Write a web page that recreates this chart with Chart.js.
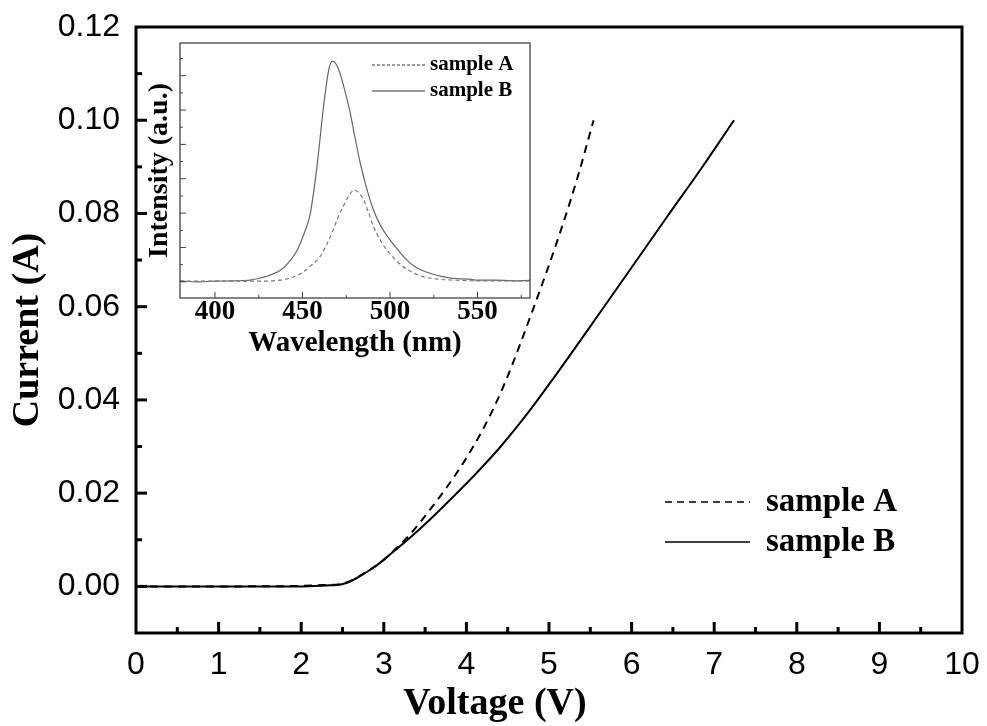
<!DOCTYPE html>
<html>
<head>
<meta charset="utf-8">
<script src="https://cdn.jsdelivr.net/npm/chart.js@4.4.1/dist/chart.umd.min.js"></script>
<style>
  html, body { margin: 0; padding: 0; background: #fff; }
  #wrap { position: relative; width: 987px; height: 726px; }
  #main { position: absolute; left: 0; top: 0; }
  #inset { position: absolute; left: 140px; top: 30px; }
</style>
</head>
<body>
<div id="wrap">
  <canvas id="main" width="987" height="726"></canvas>
  <canvas id="inset" width="420" height="340"></canvas>
</div>
<script>
// I-V curves: voltage (V) and current (A)
const voltageA = [0, 1, 2, 2.3, 2.48, 2.6, 2.75, 2.98, 3.15, 3.32, 3.6, 3.87, 4.09, 4.29, 4.47, 4.81, 5.14, 5.35, 5.54];
const currentA = [0, 0, 0.0001, 0.0003, 0.0005, 0.0012, 0.0027, 0.0054, 0.0082, 0.0112, 0.0174, 0.0240, 0.0302, 0.0368, 0.0438, 0.0596, 0.0762, 0.0880, 0.100];
const voltageB = [0, 1, 2, 2.3, 2.48, 2.6, 2.75, 2.92, 3.1, 3.32, 3.55, 3.81, 4.1, 4.41, 4.77, 5.06, 5.62, 6.0, 6.43, 6.85, 7.24];
const currentB = [0, 0, 0, 0.0002, 0.0004, 0.0011, 0.0026, 0.0046, 0.0072, 0.0105, 0.0142, 0.0187, 0.0239, 0.0299, 0.0378, 0.0448, 0.0588, 0.0684, 0.0793, 0.0898, 0.100];
const voltageTicks = [0, 1, 2, 3, 4, 5, 6, 7, 8, 9, 10];
const currentTicks = [0, 0.02, 0.04, 0.06, 0.08, 0.10, 0.12];
const seriesLabels = ["sample A", "sample B"];

// inset: EL spectra, wavelength (nm) and intensity (a.u.)
const wavelengthA = [380, 400, 425, 437, 445, 450.5, 455, 460, 464, 467.6, 470.5, 473.3, 476.5, 479.4, 482, 484.8, 487.5, 490.5, 494, 498.1, 503, 507.6, 513, 519, 527, 536, 550, 580];
const intensityA = [0.02, 0.02, 0.02, 0.05, 0.15, 0.29, 0.48, 0.73, 1.1, 1.52, 1.9, 2.2, 2.5, 2.67, 2.6, 2.4, 2.05, 1.62, 1.25, 0.93, 0.65, 0.44, 0.27, 0.15, 0.08, 0.05, 0.03, 0.03];
const wavelengthB = [380, 390, 400, 410, 420, 425, 430, 437, 442, 446.7, 450.5, 454.3, 458.1, 461.9, 464.8, 467, 469, 471.4, 474, 477.1, 480, 482.9, 486.5, 490.5, 495, 500, 505, 509.5, 515, 522.9, 530, 536, 545, 550, 560, 570, 580];
const intensityB = [0.03, 0.0, 0.02, 0.03, 0.05, 0.1, 0.17, 0.32, 0.56, 0.9, 1.35, 1.95, 3.28, 5.04, 6.12, 6.42, 6.35, 6.07, 5.6, 4.95, 4.2, 3.48, 2.75, 2.1, 1.6, 1.22, 0.9, 0.64, 0.42, 0.25, 0.15, 0.1, 0.08, 0.05, 0.05, 0.03, 0.04];
const wavelengthTicks = [400, 450, 500, 550];
const intensityTicks = [0, 1, 2, 3, 4, 5, 6];

const SERIF = "'Liberation Serif', 'Times New Roman', serif";
const SANS = "'Liberation Sans', Arial, sans-serif";

function toPoints(xs, ys) {
    return xs.map((x, i) => ({ x: x, y: ys[i] }));
}

// keep the plot box where it is: no extra room for edge labels
function noScalePadding(s) {
    s.paddingLeft = 0;
    s.paddingRight = 0;
    s.paddingTop = 0;
    s.paddingBottom = 0;
}

// box round the plot + inward major/minor ticks on bottom and left axes
const frameTicks = {
    id: "frameTicks",
    afterDraw(chart, args, o) {
        const { ctx, chartArea: { left, top, right, bottom }, scales: { x, y } } = chart;
        ctx.save();
        ctx.strokeStyle = o.color;
        ctx.lineCap = "butt";

        const drawSet = (scale, step, horizontal) => {
            const majors = scale.ticks.map(t => t.value);
            const start = Math.ceil(scale.min / step - 1e-9);
            const end = Math.floor(scale.max / step + 1e-9);
            for (let k = start; k <= end; k++) {
                const v = k * step;
                const isMajor = majors.some(m => Math.abs(m - v) < step / 10);
                const len = isMajor ? o.major : o.minor;
                const p = scale.getPixelForValue(v);
                if (horizontal && (p <= left + 1 || p >= right - 1)) continue;
                if (!horizontal && (p <= top + 1 || p >= bottom - 1)) continue;
                ctx.lineWidth = o.tickWidth;
                ctx.beginPath();
                if (horizontal) {
                    ctx.moveTo(p, bottom);
                    ctx.lineTo(p, bottom - len);
                } else {
                    ctx.moveTo(left, p);
                    ctx.lineTo(left + len, p);
                }
                ctx.stroke();
            }
        };
        drawSet(x, o.xMinor, true);
        drawSet(y, o.yMinor, false);

        ctx.lineWidth = o.lineWidth;
        ctx.strokeRect(left, top, right - left, bottom - top);
        ctx.restore();
    }
};

// legend drawn inside the plot + free placed x title
const extras = {
    id: "extras",
    afterDraw(chart, args, o) {
        const ctx = chart.ctx;
        ctx.save();
        ctx.fillStyle = "#000";
        if (o.xTitle) {
            ctx.font = o.xTitle.font;
            ctx.textAlign = "center";
            ctx.textBaseline = "middle";
            ctx.fillText(o.xTitle.text, o.xTitle.x, o.xTitle.y);
        }
        const lg = o.legend;
        chart.data.datasets.forEach((ds, i) => {
            const yy = lg.y + i * lg.gap;
            ctx.strokeStyle = lg.lineColor;
            ctx.lineWidth = lg.lineWidth;
            ctx.setLineDash(ds.borderDash && ds.borderDash.length ? lg.dash : []);
            ctx.beginPath();
            ctx.moveTo(lg.x0, yy);
            ctx.lineTo(lg.x1, yy);
            ctx.stroke();
            ctx.setLineDash([]);
            ctx.font = lg.font;
            ctx.textAlign = "left";
            ctx.textBaseline = "middle";
            ctx.fillText(ds.label, lg.tx, yy);
        });
        ctx.restore();
    }
};

new Chart(document.getElementById("main"), {
    type: "line",
    data: {
        datasets: [{
            label: seriesLabels[0],
            data: toPoints(voltageA, currentA),
            borderColor: "#000",
            borderWidth: 2,
            borderDash: [8, 6],
            pointRadius: 0,
            cubicInterpolationMode: "monotone"
        }, {
            label: seriesLabels[1],
            data: toPoints(voltageB, currentB),
            borderColor: "#000",
            borderWidth: 2,
            pointRadius: 0,
            cubicInterpolationMode: "monotone"
        }]
    },
    options: {
        responsive: false,
        animation: false,
        layout: { padding: { left: 0, top: 27, right: 25, bottom: 0 } },
        plugins: {
            legend: { display: false },
            tooltip: { enabled: false },
            frameTicks: { color: "#000", lineWidth: 3, tickWidth: 3, major: 11, minor: 6, xMinor: 0.5, yMinor: 0.01 },
            extras: {
                xTitle: { text: "Voltage (V)", x: 495, y: 704, font: "bold 38px " + SERIF },
                legend: { x0: 665, x1: 750, tx: 766, y: 502, gap: 40, dash: [7, 5], lineColor: "#000", lineWidth: 1.5, font: "bold 33px " + SERIF }
            }
        },
        scales: {
            x: {
                type: "linear",
                min: 0,
                max: 10,
                afterBuildTicks: s => { s.ticks = voltageTicks.map(v => ({ value: v })); },
                afterFit: s => { s.height = 93; noScalePadding(s); },
                grid: { display: false, drawTicks: false },
                border: { display: false },
                ticks: { color: "#000", font: { family: SANS, size: 32 }, padding: 13, maxRotation: 0, autoSkip: false }
            },
            y: {
                type: "linear",
                min: -0.01,
                max: 0.12,
                afterBuildTicks: s => { s.ticks = currentTicks.map(v => ({ value: v })); },
                afterFit: s => { s.width = 136; noScalePadding(s); },
                grid: { display: false, drawTicks: false },
                border: { display: false },
                ticks: { color: "#000", font: { family: SANS, size: 32 }, padding: 16, callback: v => v.toFixed(2) },
                title: {
                    display: true,
                    text: "Current (A)",
                    color: "#000",
                    font: { family: SERIF, size: 38, weight: "bold", lineHeight: 1 },
                    padding: { top: 9, bottom: 0 }
                }
            }
        }
    },
    plugins: [frameTicks, extras]
});

// inset chart
new Chart(document.getElementById("inset"), {
    type: "line",
    data: {
        datasets: [{
            label: seriesLabels[0],
            data: toPoints(wavelengthA, intensityA),
            borderColor: "#777",
            borderWidth: 1.2,
            borderDash: [4, 3],
            pointRadius: 0,
            cubicInterpolationMode: "monotone"
        }, {
            label: seriesLabels[1],
            data: toPoints(wavelengthB, intensityB),
            borderColor: "#666",
            borderWidth: 1.2,
            pointRadius: 0,
            cubicInterpolationMode: "monotone"
        }]
    },
    options: {
        responsive: false,
        animation: false,
        layout: { padding: { left: 0, top: 13, right: 30, bottom: 0 } },
        plugins: {
            legend: { display: false },
            tooltip: { enabled: false },
            frameTicks: { color: "#444", lineWidth: 1.3, tickWidth: 1, major: 6, minor: 3, xMinor: 25, yMinor: 0.5 },
            extras: {
                legend: { x0: 232, x1: 285, tx: 290, y: 35, gap: 26, dash: [3, 2], lineColor: "#333", lineWidth: 1, font: "bold 21px " + SERIF }
            }
        },
        scales: {
            x: {
                type: "linear",
                min: 380,
                max: 580,
                afterBuildTicks: s => { s.ticks = wavelengthTicks.map(v => ({ value: v })); },
                afterFit: s => { s.height = 72; noScalePadding(s); },
                grid: { display: false, drawTicks: false },
                border: { display: false },
                ticks: { color: "#000", font: { family: SERIF, size: 27, weight: "bold" }, padding: -2, maxRotation: 0, autoSkip: false },
                title: {
                    display: true,
                    text: "Wavelength (nm)",
                    color: "#000",
                    font: { family: SERIF, size: 29, weight: "bold", lineHeight: 1 },
                    padding: { top: 0, bottom: 12 }
                }
            },
            y: {
                type: "linear",
                min: -0.47,
                max: 6.95,
                afterBuildTicks: s => { s.ticks = intensityTicks.map(v => ({ value: v })); },
                afterFit: s => { s.width = 40; noScalePadding(s); },
                grid: { display: false, drawTicks: false },
                border: { display: false },
                ticks: { display: false },
                title: {
                    display: true,
                    text: "Intensity (a.u.)",
                    color: "#000",
                    font: { family: SERIF, size: 28, weight: "bold", lineHeight: 1 },
                    padding: { top: 6, bottom: 0 }
                }
            }
        }
    },
    plugins: [frameTicks, extras]
});
</script>
</body>
</html>
